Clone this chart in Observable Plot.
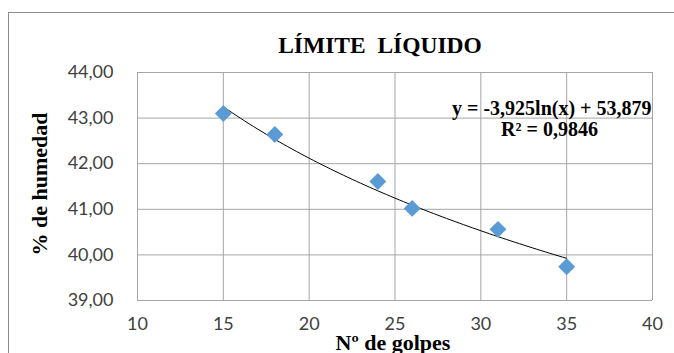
<!DOCTYPE html>
<html>
<head>
<meta charset="utf-8">
<script src="https://cdn.jsdelivr.net/npm/d3@7"></script>
<script src="https://cdn.jsdelivr.net/npm/@observablehq/plot@0.6"></script>
<style>
  html, body { margin: 0; padding: 0; background: #fff; }
  #wrap { position: relative; width: 674px; height: 353px; overflow: hidden; }
  #frame { position: absolute; left: 8px; top: 12px; width: 700px; height: 400px;
           border-left: 1px solid #8c8c8c; border-top: 1px solid #8c8c8c; box-sizing: border-box; }
  .serif { position: absolute; font-family: "Liberation Serif", "Times New Roman", serif; font-weight: bold; color: #000; white-space: nowrap; }
  #title { left: 380px; top: 45px; font-size: 23.5px; transform: translate(-50%, -50%); }
  #ylab { left: 40px; top: 184px; font-size: 22px; transform: translate(-50%, -50%) rotate(-90deg); }
  #xlab { left: 393px; top: 343px; font-size: 22px; transform: translate(-50%, -50%); }
  #chart { position: absolute; left: 0; top: 0; }
</style>
</head>
<body>
<div id="wrap">
  <div id="frame"></div>
  <div id="chart"></div>
  <div id="title" class="serif">LÍMITE&nbsp; LÍQUIDO</div>
  <div id="ylab" class="serif">% de humedad</div>
  <div id="xlab" class="serif">Nº de golpes</div>
</div>
<script>
const golpes = [15, 18, 24, 26, 31, 35];
const humedad = [43.10, 42.64, 41.61, 41.02, 40.56, 39.74];
const xTicks = [10, 15, 20, 25, 30, 35, 40];
const yTicks = [39, 40, 41, 42, 43, 44];
const coefA = -3.925;
const coefB = 53.879;
const eqLabel = "y = -3,925ln(x) + 53,879";
const r2Label = "R² = 0,9846";

const points = golpes.map((g, i) => ({x: g, y: humedad[i]}));
const xs = d3.range(15, 35.001, 0.25);
const trend = xs.map(x => ({x, y: coefA * Math.log(x) + coefB}));
const fmt = d => d3.format(".2f")(d).replace(".", ",");

const chart = Plot.plot({
  width: 674,
  height: 353,
  marginLeft: 137,
  marginRight: 22,
  marginTop: 72,
  marginBottom: 53,
  style: { fontFamily: "Lato, 'Open Sans', sans-serif", fontSize: "18px", color: "#404040", background: "transparent", overflow: "visible" },
  x: { domain: [10, 40], ticks: xTicks, label: null },
  y: { domain: [39, 44], ticks: yTicks, label: null },
  marks: [
    Plot.gridX(xTicks, { stroke: "#a6a6a6", strokeOpacity: 1, strokeWidth: 1 }),
    Plot.gridY(yTicks, { stroke: "#a6a6a6", strokeOpacity: 1, strokeWidth: 1 }),
    Plot.axisX(xTicks, { tickSize: 0, tickPadding: 17, fontSize: 18, fill: "#404040", tickFormat: d => String(d) }),
    Plot.axisY(yTicks, { tickSize: 0, tickPadding: 24, fontSize: 18, fill: "#404040", tickFormat: fmt }),
    Plot.line(trend, { x: "x", y: "y", stroke: "#000", strokeWidth: 1 }),
    Plot.dot(points, { x: "x", y: "y", symbol: "diamond2", r: 7.6, fill: "#5b9bd5", stroke: "none" }),
    Plot.text([eqLabel], { x: 40, y: 43.21, text: d => d, textAnchor: "end", dx: -1, fontFamily: "'Liberation Serif', serif", fontWeight: "bold", fontSize: 20, fill: "#000" }),
    Plot.text([r2Label], { x: 34.0, y: 42.75, text: d => d, textAnchor: "middle", fontFamily: "'Liberation Serif', serif", fontWeight: "bold", fontSize: 20, fill: "#000" })
  ]
});
document.getElementById("chart").appendChild(chart);
</script>
</body>
</html>
